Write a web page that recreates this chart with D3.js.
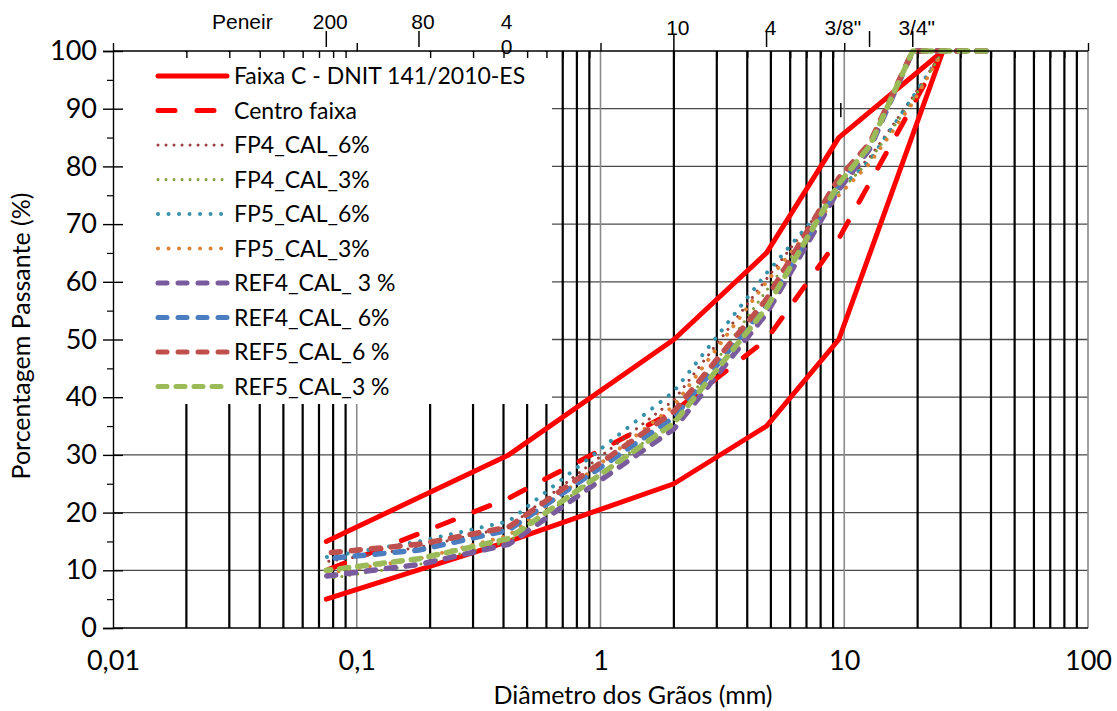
<!DOCTYPE html>
<html>
<head>
<meta charset="utf-8">
<script src="https://cdn.jsdelivr.net/npm/d3@7"></script>
<style>
  html, body { margin: 0; padding: 0; background: #fff; }
  svg { display: block; }
  .lbl { font-family: Lato, "Open Sans", sans-serif; fill: #000; }
  .sieve { font-family: "Liberation Sans", Arial, sans-serif; fill: #000; }
</style>
</head>
<body>
<svg id="chart" width="1117" height="711"></svg>
<script>
// Sieve openings (mm) for the DNIT 141/2010-ES band and the mixtures
const bandSieves = [25.4, 9.5, 4.8, 2.0, 0.42, 0.075];
const faixaSup   = [100, 85, 65, 50, 30, 15];
const faixaInf   = [100, 50, 35, 25, 15, 5];
const centroFaixa = [100, 67.5, 50, 37.5, 22.5, 10];

const fpSieves  = [25.4, 19.1, 12.7, 9.5, 4.8, 2.0, 0.42, 0.18, 0.075];
const fp4Cal6   = [100, 92, 81.5, 76.5, 60.5, 39.5, 17.5, 14, 11.5];
const fp4Cal3   = [100, 91.5, 81, 75.5, 58.5, 36, 15, 11, 8.5];
const fp5Cal6   = [100, 92, 81, 76, 61.5, 41, 18.5, 15, 12.3];
const fp5Cal3   = [100, 91, 80.5, 75, 60, 38.5, 16, 12, 9.5];

const refSieves = [38.1, 25.4, 19.1, 12.7, 9.5, 4.8, 2.0, 0.42, 0.18, 0.075];
const ref4Cal3  = [100, 100, 100, 83, 76, 54.5, 34.5, 14.5, 11, 9];
const ref4Cal6  = [100, 100, 100, 83.5, 77, 56, 36.5, 17, 13.5, 12];
const ref5Cal6  = [100, 100, 100, 84, 78, 57, 37.5, 17.5, 14.5, 13];
const ref5Cal3  = [100, 100, 100, 83.5, 77, 55.5, 35.5, 15.5, 12, 10];

// Axis ticks
const xTickValues = [0.01, 0.1, 1, 10, 100];
const xTickLabels = ["0,01", "0,1", "1", "10", "100"];
const yTickValues = [0, 10, 20, 30, 40, 50, 60, 70, 80, 90, 100];

// Sieve designations along the top
const sieveSizes  = [0.075, 0.18, 0.42, 2.0, 4.8, 9.5, 19.1];
const sieveNames  = ["200", "80", "40", "10", "4", "3/8\"", "3/4\""];
const sieveMarks  = [0.075, 0.18, 2.0, 4.8, 12.7, 19.1];

const series = [
  { name: "Faixa C - DNIT 141/2010-ES", xs: bandSieves, ys: faixaSup, color: "#FF0000", width: 5, dash: null, legend: true },
  { name: "Faixa C inferior", xs: bandSieves, ys: faixaInf, color: "#FF0000", width: 5, dash: null, legend: false },
  { name: "Centro faixa", xs: bandSieves, ys: centroFaixa, color: "#FF0000", width: 5, dash: "17,22", legend: true },
  { name: "FP4_CAL_6%", xs: fpSieves, ys: fp4Cal6, color: "#9B3D3A", width: 3, dash: "0.01,8", legend: true },
  { name: "FP4_CAL_3%", xs: fpSieves, ys: fp4Cal3, color: "#7FA03F", width: 3, dash: "0.01,8", legend: true },
  { name: "FP5_CAL_6%", xs: fpSieves, ys: fp5Cal6, color: "#3592AA", width: 4, dash: "0.01,10.5", legend: true },
  { name: "FP5_CAL_3%", xs: fpSieves, ys: fp5Cal3, color: "#DD8336", width: 4, dash: "0.01,10.5", legend: true },
  { name: "REF4_CAL_ 3 %", xs: refSieves, ys: ref4Cal3, color: "#7A5C9E", width: 5.5, dash: "9,11", legend: true },
  { name: "REF4_CAL_ 6%", xs: refSieves, ys: ref4Cal6, color: "#4A7EC0", width: 5.5, dash: "9,11", legend: true },
  { name: "REF5_CAL_6 %", xs: refSieves, ys: ref5Cal6, color: "#C0504D", width: 5.5, dash: "9,11", legend: true },
  { name: "REF5_CAL_3 %", xs: refSieves, ys: ref5Cal3, color: "#9BBB59", width: 5.5, dash: "9,9", legend: true }
];

const svg = d3.select("#chart");
const x = d3.scaleLog().domain([0.01, 100]).range([113, 1088]);
const y = d3.scaleLinear().domain([0, 100]).range([628, 51]);

// Grid: horizontal every 10 %, vertical minor lines (2..9 of each decade) heavy black, decades light grey
const minorX = [];
for (let e = -2; e < 2; e++) for (let m = 2; m <= 9; m++) minorX.push(m * Math.pow(10, e));
const grid = svg.append("g");
grid.selectAll("line.hg").data(yTickValues.filter(v => v > 0 && v < 100)).join("line")
  .attr("x1", x(0.01)).attr("x2", x(100))
  .attr("y1", d => y(d)).attr("y2", d => y(d))
  .attr("stroke", "#4a4a4a").attr("stroke-width", 1.3);
grid.selectAll("line.vm").data(minorX).join("line")
  .attr("x1", d => x(d)).attr("x2", d => x(d))
  .attr("y1", y(0)).attr("y2", y(100))
  .attr("stroke", "#000").attr("stroke-width", 2.2);
grid.selectAll("line.vM").data([0.1, 1, 10, 100]).join("line")
  .attr("x1", d => x(d)).attr("x2", d => x(d))
  .attr("y1", y(0)).attr("y2", y(100))
  .attr("stroke", "#8a8a8a").attr("stroke-width", 1.6);

// Curves
const line = d3.line().x(d => x(d[0])).y(d => y(d[1]));
const curves = svg.append("g");
series.forEach(s => {
  curves.append("path")
    .datum(s.xs.map((v, i) => [v, s.ys[i]]))
    .attr("d", line)
    .attr("fill", "none")
    .attr("stroke", s.color)
    .attr("stroke-width", s.width)
    .attr("stroke-linecap", "round")
    .attr("stroke-linejoin", "round")
    .attr("stroke-dasharray", s.dash);
});

// Legend
const legendItems = series.filter(s => s.legend);
const lg = svg.append("g");
lg.append("rect").attr("x", 114).attr("y", 52).attr("width", 438).attr("height", 352).attr("fill", "#fff");
legendItems.forEach((s, i) => {
  const ly = 76 + i * 34.5;
  lg.append("line").attr("x1", 158).attr("x2", 227).attr("y1", ly).attr("y2", ly)
    .attr("stroke", s.color).attr("stroke-width", Math.min(s.width, 5))
    .attr("stroke-linecap", "round").attr("stroke-dasharray", s.dash);
  lg.append("text").attr("class", "lbl").attr("x", 234).attr("y", ly + 8)
    .attr("font-size", 23).text(s.name);
});

// Frame lines
const frame = svg.append("g").attr("stroke", "#000").attr("stroke-width", 1.4);
frame.append("line").attr("x1", x(0.01)).attr("x2", x(100)).attr("y1", y(0)).attr("y2", y(0));
frame.append("line").attr("x1", x(0.01)).attr("x2", x(100)).attr("y1", y(100)).attr("y2", y(100));

// Left axis: crossing major ticks, outer minor ticks
const yAxis = d3.axisLeft(y).tickValues(yTickValues).tickSize(10).tickPadding(6);
const ya = svg.append("g").attr("transform", `translate(${x(0.01)},0)`).call(yAxis);
ya.select(".domain").attr("stroke-width", 1.4);
ya.selectAll(".tick line").attr("stroke-width", 1.4);
ya.selectAll(".tick text").attr("class", "lbl").attr("font-size", 27).attr("font-family", "Lato, sans-serif");
svg.append("g").attr("transform", `translate(${x(0.01)},0)`)
  .call(d3.axisRight(y).tickValues(yTickValues).tickSize(10).tickFormat(""))
  .call(g => g.select(".domain").remove())
  .selectAll(".tick line").attr("stroke-width", 1.4);
svg.append("g").attr("transform", `translate(${x(0.01)},0)`)
  .call(d3.axisLeft(y).tickValues(d3.range(5, 100, 10)).tickSize(6).tickFormat(""))
  .call(g => g.select(".domain").remove())
  .selectAll(".tick line").attr("stroke-width", 1.2);

// Bottom labels
const xa = svg.append("g").attr("transform", `translate(0,${y(0)})`)
  .call(d3.axisBottom(x).tickValues(xTickValues).tickSize(0).tickPadding(23)
    .tickFormat((d, i) => xTickLabels[i]));
xa.select(".domain").remove();
xa.selectAll(".tick text").attr("class", "lbl").attr("font-size", 27).attr("font-family", "Lato, sans-serif");

// Top axis: decades outward, minor ticks inward
const ta = svg.append("g").attr("transform", `translate(0,${y(100)})`);
ta.call(d3.axisTop(x).tickValues(xTickValues).tickSize(8).tickFormat(""))
  .call(g => g.select(".domain").remove())
  .selectAll(".tick line").attr("stroke-width", 1.4);
ta.append("g").call(d3.axisBottom(x).tickValues(minorX).tickSize(7).tickFormat(""))
  .call(g => g.select(".domain").remove())
  .selectAll(".tick line").attr("stroke-width", 1.4);

// Sieve marks and names
const sv = svg.append("g");
sv.selectAll("line").data(sieveMarks).join("line")
  .attr("x1", d => x(d)).attr("x2", d => x(d))
  .attr("y1", d => d === 2.0 ? 35 : 31).attr("y2", d => d === 2.0 ? 59 : 47)
  .attr("stroke", "#000").attr("stroke-width", 1.5);
sv.append("line").attr("x1", x(9.5) + 2).attr("x2", x(9.5) + 2)
  .attr("y1", y(91)).attr("y2", y(88.5)).attr("stroke", "#000").attr("stroke-width", 1.5);
sieveSizes.forEach((d, i) => {
  const name = sieveNames[i];
  const t = sv.append("text").attr("class", "sieve").attr("font-size", 21)
    .attr("text-anchor", "middle").attr("x", x(d) + 4);
  if (name === "40") {
    t.append("tspan").attr("x", x(d) - 2).attr("y", 29).text("4");
    t.append("tspan").attr("x", x(d) - 2).attr("y", 54).text("0");
  } else {
    t.attr("y", d >= 2 ? 35 : 29).text(name);
  }
});
sv.append("text").attr("class", "sieve").attr("font-size", 21)
  .attr("x", 212).attr("y", 29).text("Peneir");

// Axis titles
svg.append("text").attr("class", "lbl").attr("font-size", 25).attr("text-anchor", "middle")
  .attr("transform", `translate(30,336) rotate(-90)`).text("Porcentagem Passante (%)");
svg.append("text").attr("class", "lbl").attr("font-size", 25).attr("text-anchor", "middle")
  .attr("x", 633).attr("y", 704).text("Diâmetro dos Grãos (mm)");
</script>
</body>
</html>
